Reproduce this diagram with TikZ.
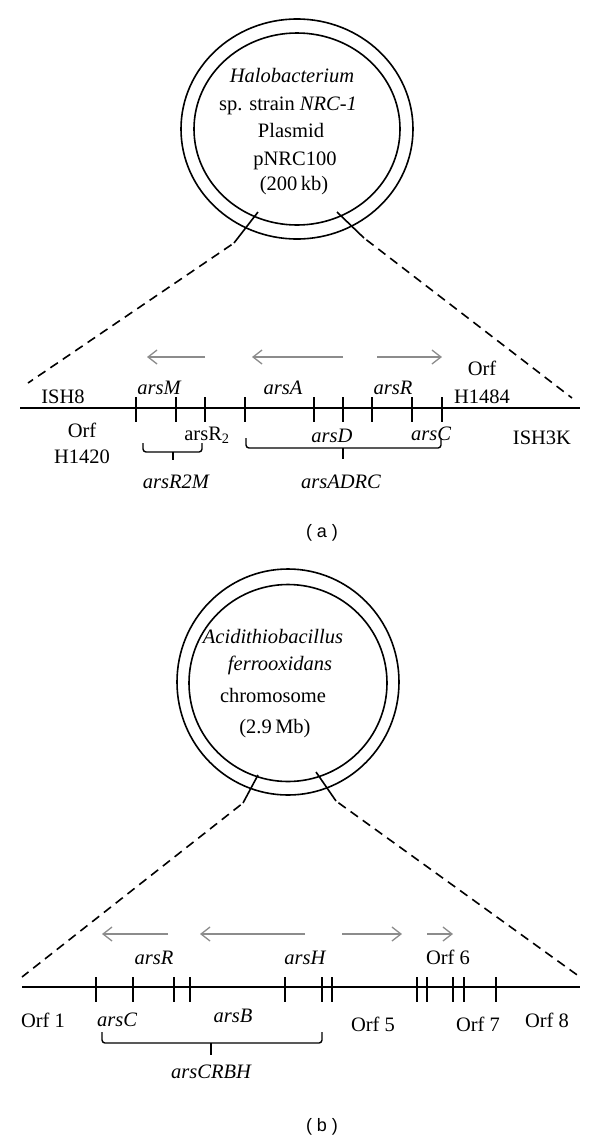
\documentclass[tikz,border=0pt]{standalone}
\usepackage{fontspec}
\setmainfont{Liberation Serif}
\newfontfamily\capfont{Liberation Sans}
\usetikzlibrary{arrows.meta}
\definecolor{arrowgray}{RGB}{140,140,140}
\begin{document}
\begin{tikzpicture}[x=1pt,y=-1pt,
  lbl/.style={anchor=base, inner sep=0pt, font=\fontsize{20.5}{24}\selectfont},
  gene/.style={anchor=base, inner sep=0pt, font=\fontsize{20.5}{24}\selectfont\itshape},
  ln/.style={line width=1.6pt},
  dsh/.style={line width=1.6pt, dash pattern=on 9pt off 6pt, dash phase=12pt},
  dir/.style={line width=1.3pt, draw=arrowgray, -{Straight Barb[length=9pt,width=14pt,line width=1.3pt]}},
  brk/.style={line width=1.4pt, rounded corners=3pt},
  captext/.style={font=\capfont\fontsize{18}{21}\selectfont, inner sep=0pt}
]
\useasboundingbox (0,0) rectangle (600,1141);

% ================= (a) =================
\draw[ln] (297,129) ellipse [x radius=116pt, y radius=110pt];
\draw[ln] (297,129) ellipse [x radius=103pt, y radius=96pt];

\node[gene] (a1) at (292,82) {Halobacterium};
\node[lbl] (a2) at (288,110) {sp. strain \textit{NRC-1}};
\node[lbl] (a3) at (291,137) {Plasmid};
\node[lbl] (a4) at (295,165) {pNRC100};
\node[lbl] (a5) at (294,190) {(200\,kb)};

\coordinate (aLt) at (258,212);
\coordinate (aLb) at (234,243);
\coordinate (aRt) at (337,212);
\coordinate (aRb) at (364,238);
\coordinate (aLend) at (28,383);
\coordinate (aRend) at (572,398);
\draw[ln] (aLt) -- (aLb);
\draw[ln] (aRt) -- (aRb);
\draw[dsh] (aLb) -- (aLend);
\draw[dsh] (aRb) -- (aRend);

\coordinate (aS) at (20,408);
\coordinate (aE) at (580,408);
\draw[ln] (aS) -- (aE);
\foreach \x in {136,176,205,245,314,343,372,412,442}
  \draw[ln] (\x,397) -- (\x,422);

\draw[dir] (205,357) -- (147,357);
\draw[dir] (343,357) -- (252,357);
\draw[dir] (377,357) -- (442,357);

\node[lbl] (ish8) at (63,403) {ISH8};
\node[gene] (arsM) at (159,394) {arsM};
\node[lbl] (orfa1) at (82,437) {Orf};
\node[lbl] (orfa2) at (82,463) {H1420};
\node[lbl] (arsR2) at (207,440) {arsR\textsubscript{2}};
\node[gene] (arsA) at (283,394) {arsA};
\node[gene] (arsD) at (332,442) {arsD};
\node[gene] (arsRa) at (393,394) {arsR};
\node[gene] (arsCa) at (431,440) {arsC};
\node[lbl] (orfb1) at (482,375) {Orf};
\node[lbl] (orfb2) at (482,403) {H1484};
\node[lbl] (ish3k) at (542,444) {ISH3K};

\draw[brk] (143,443) -- (143,452) -- (202,452) -- (202,443);
\draw[line width=1.4pt] (173,452) -- (173,460);
\draw[brk] (246,438) -- (246,448) -- (441,448) -- (441,438);
\draw[line width=1.4pt] (343,448) -- (343,459);
\node[gene] (r2m) at (176,488) {arsR2M};
\node[gene] (adrc) at (341,488) {arsADRC};

\node[captext] (capa) at (322,533) {( a )};

% ================= (b) =================
\draw[ln] (288,682) ellipse [x radius=111pt, y radius=113pt];
\draw[ln] (288,683) ellipse [x radius=99pt, y radius=98.5pt];

\node[gene] (b1) at (273,643) {Acidithiobacillus};
\node[gene] (b2) at (280,670) {ferrooxidans};
\node[lbl] (b3) at (273,702) {chromosome};
\node[lbl] (b4) at (275,733) {(2.9\,Mb)};

\coordinate (bLt) at (258,775);
\coordinate (bLb) at (243,803);
\coordinate (bRt) at (316,772);
\coordinate (bRb) at (336,801);
\coordinate (bLend) at (22,977);
\coordinate (bRend) at (580,977);
\draw[ln] (bLt) -- (bLb);
\draw[ln] (bRt) -- (bRb);
\draw[dsh] (bLb) -- (bLend);
\draw[dsh] (bRb) -- (bRend);

\coordinate (bS) at (22,987);
\coordinate (bE) at (580,987);
\draw[ln] (bS) -- (bE);
\foreach \x in {96,133,174,190,285,322,332,417,427,453,464,496}
  \draw[ln] (\x,977) -- (\x,1002);

\draw[dir] (168,934) -- (102,934);
\draw[dir] (305,934) -- (200,934);
\draw[dir] (342,934) -- (402,934);
\draw[dir] (427,934) -- (453,934);

\node[gene] (arsRb) at (154,964) {arsR};
\node[gene] (arsH) at (305,964) {arsH};
\node[lbl] (orf6) at (448,964) {Orf 6};
\node[lbl] (orf1) at (43,1027) {Orf 1};
\node[gene] (arsCb) at (117,1026) {arsC};
\node[gene] (arsB) at (233,1022) {arsB};
\node[lbl] (orf5) at (373,1031) {Orf 5};
\node[lbl] (orf7) at (478,1031) {Orf 7};
\node[lbl] (orf8) at (547,1027) {Orf 8};

\draw[brk] (102,1032) -- (102,1043) -- (322,1043) -- (322,1032);
\draw[line width=1.4pt] (211,1043) -- (211,1055);
\node[gene] (crbh) at (211,1078) {arsCRBH};

\node[captext] (capb) at (322,1127) {( b )};
\end{tikzpicture}
\end{document}
